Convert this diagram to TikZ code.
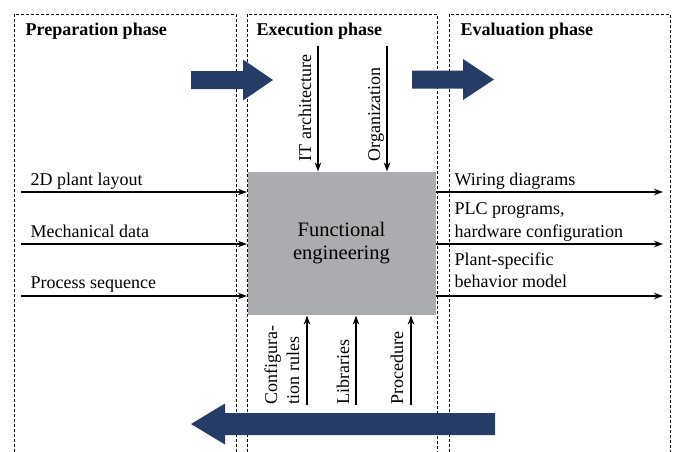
\documentclass[tikz,border=0pt]{standalone}
\usepackage{fontspec}
\setmainfont{Liberation Serif}
\usetikzlibrary{arrows.meta, positioning}
\definecolor{fegray}{RGB}{170,172,175}
\definecolor{phasenavy}{RGB}{37,61,102}

\begin{document}
\begin{tikzpicture}[x=1pt, y=-1pt, >={Stealth[length=9pt,width=6.5pt]}, line width=1.2pt,
    phase/.style={draw, line width=0.8pt, dash pattern=on 3pt off 2pt},
    title/.style={font=\fontsize{18}{22}\selectfont\bfseries, inner sep=0pt, anchor=base west},
    lbl/.style={font=\fontsize{18}{22}\selectfont, inner sep=0pt, align=left}]

    \useasboundingbox (0,0) rectangle (675,451);

    \node[fill=fegray, minimum width=188pt, minimum height=143pt, inner sep=0pt, align=center,
          font=\fontsize{20.5}{23}\selectfont] (fe) at (341.5,243.5) {Functional\\engineering};

    % phase frames
    \draw[phase] (14,452) -- (14,14) -- (236,14) -- (236,452);
    \draw[phase] (247,452) -- (247,14) -- (437,14) -- (437,452);
    \draw[phase] (449,452) -- (449,14) -- (670,14) -- (670,452);

    \node[title] (prep) at (25,35) {Preparation phase};
    \node[title] (exec) at (256,35) {Execution phase};
    \node[title] (eval) at (460,35) {Evaluation phase};

    % phase arrows
    \fill[phasenavy] (191,71) -- (243,71) -- (243,59.5) -- (273,80) -- (243,100.5) -- (243,89) -- (191,89) -- cycle;
    \fill[phasenavy] (412,70.5) -- (463,70.5) -- (463,59) -- (494,79.5) -- (463,100) -- (463,88.5) -- (412,88.5) -- cycle;
    \fill[phasenavy] (495,413) -- (225,413) -- (225,403.5) -- (191,424) -- (225,444.5) -- (225,435) -- (495,435) -- cycle;

    % inputs
    \coordinate (in1) at (21,192);
    \coordinate (in2) at (21,244);
    \coordinate (in3) at (21,296);
    \draw[->] (in1) -- (in1 -| fe.west);
    \draw[->] (in2) -- (in2 -| fe.west);
    \draw[->] (in3) -- (in3 -| fe.west);
    \node[lbl, anchor=base west] (layout) at (30,185) {2D plant layout};
    \node[lbl, anchor=base west] (mech) at (30,237) {Mechanical data};
    \node[lbl, anchor=base west] (seq) at (30,288) {Process sequence};

    % outputs
    \coordinate (out1) at (663,192);
    \coordinate (out2) at (663,244);
    \coordinate (out3) at (663,296);
    \draw[->] (fe.east |- out1) -- (out1);
    \draw[->] (fe.east |- out2) -- (out2);
    \draw[->] (fe.east |- out3) -- (out3);
    \node[lbl, anchor=base west] (wiring) at (454,185) {Wiring diagrams};
    \node[lbl, anchor=base west] (plc) at (454,214) {PLC programs,};
    \node[lbl, anchor=base west] (hw) at (454,237) {hardware configuration};
    \node[lbl, anchor=base west] (spec) at (454,265) {Plant-specific};
    \node[lbl, anchor=base west] (model) at (454,287) {behavior model};

    % resources from above
    \coordinate (it) at (318,46);
    \coordinate (org) at (387,46);
    \draw[->] (it) -- (it |- fe.north);
    \draw[->] (org) -- (org |- fe.north);
    \node[lbl, rotate=90, anchor=base west] (itl) at (311,162) {IT architecture};
    \node[lbl, rotate=90, anchor=base west] (orgl) at (380,162) {Organization};

    % resources from below
    \coordinate (rules) at (307,405);
    \coordinate (libs) at (356,405);
    \coordinate (proc) at (411,405);
    \draw[->] (rules) -- (rules |- fe.south);
    \draw[->] (libs) -- (libs |- fe.south);
    \draw[->] (proc) -- (proc |- fe.south);
    \node[lbl, rotate=90, anchor=south west] (rulesl) at (300,405) {Configura-\\tion rules};
    \node[lbl, rotate=90, anchor=south west] (libsl) at (350,405) {Libraries};
    \node[lbl, rotate=90, anchor=south west] (procl) at (404,405) {Procedure};
\end{tikzpicture}
\end{document}
